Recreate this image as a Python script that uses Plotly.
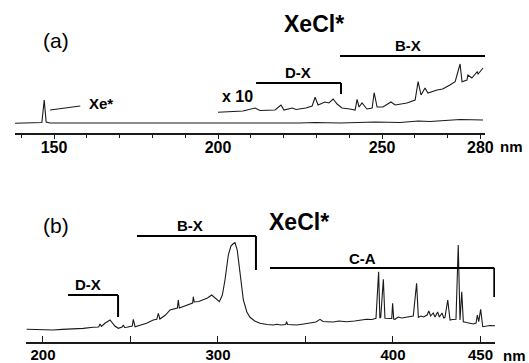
import plotly.graph_objects as go

W, H = 529, 363

# ---------------- Panel (a) data (wavelength nm, intensity a.u.) ----------------
A_MAIN_NM = [138.1, 142.7, 145.7, 146.3, 147.0, 147.6, 148.8, 164.0, 179.3, 200.0,
             225.0, 229.6, 237.2, 247.9, 255.5, 261.0, 264.6, 273.8, 280.8]
A_MAIN_I = [9.7, 10, 10, 10.5, 33, 11, 10, 10, 9.5, 9.7,
            10, 10.5, 10, 11, 10.5, 12, 11.5, 13.5, 13]

A_X10_NM = [200.0, 203.5, 207.6, 211.3, 212.8, 217.4, 219.2, 220.1, 222.6, 223.8,
            226.8, 228.7, 229.6, 230.5, 231.4, 232.6, 233.8, 235.1, 236.3, 237.8,
            240.2, 241.8, 242.4, 243.0, 243.9, 245.4, 247.0, 247.6, 248.5, 250.3,
            252.7, 254.0, 257.6, 260.1, 261.0, 261.9, 263.1, 264.0, 266.8, 268.5,
            270.7, 272.3, 273.8, 274.4, 275.9, 276.2, 277.4, 279.0, 279.3, 280.8]
A_X10_I = [20.7, 21.5, 22, 25, 22.5, 23, 28, 23, 25, 23.5,
           25, 27, 35.7, 28, 29, 31, 30, 34, 29, 25,
           24, 23, 33.7, 26, 30, 24, 25, 40.3, 26, 26,
           31, 28, 30, 33, 51.3, 38, 45, 40, 43, 44,
           48, 51.3, 69, 51.3, 53, 58, 55, 61.3, 59, 65]

A_TICKS = [150, 200, 250, 280]
A_MINOR = [140, 160, 170, 180, 190, 210, 220, 230, 240, 260, 270]

# brackets: (start nm, end nm, level, drop level or None)
A_DX = (211.6, 237.5, 50, 39)
A_BX = (237.2, 281.4, 77, None)

# ---------------- Panel (b) data ----------------
B_NM = [190.7, 198.0, 205.7, 211.0, 217.1, 223.0, 228.6, 231.8, 232.6, 233.4,
        235.4, 238.3, 241.1, 243.0, 245.2, 245.9, 246.6, 247.8, 251.0, 251.6,
        252.6, 256.0, 259.2, 263.0, 265.0, 265.9, 266.8, 270.0, 272.6, 276.8,
        277.3, 277.9, 281.0, 284.0, 285.5, 285.9, 286.4, 289.0, 291.6, 294.0,
        296.4, 298.5, 300.8, 302.5, 304.0, 305.9, 307.4, 308.5, 309.7, 311.0,
        312.6, 314.5, 316.5, 318.3, 321.0, 324.0, 328.0, 331.6, 333.5, 336.0,
        338.7, 339.2, 339.8, 345.0, 349.0, 352.6, 356.0, 358.3, 360.0, 362.1,
        366.0, 369.0, 373.5, 378.0, 382.0, 385.0, 388.0, 390.3, 391.8, 392.5,
        393.0, 394.5, 395.4, 396.4, 399.3, 399.8, 400.4, 401.1, 403.0, 405.0,
        407.8, 409.5, 411.6, 413.5, 414.5, 416.0, 417.5, 419.5, 420.5, 421.5,
        423.0, 424.0, 425.5, 426.5, 428.0, 429.0, 429.7, 431.3, 432.6, 434.0,
        436.0, 437.3, 438.3, 439.3, 440.2, 442.0, 444.0, 445.9, 447.5, 448.2,
        449.0, 450.1, 451.3, 453.5, 455.5, 458.3]
B_I = [12.7, 12.2, 12, 12.6, 13, 13.6, 14.7, 15, 18, 15.5,
       18.7, 22, 16, 13.7, 15, 17, 14.5, 14.7, 16, 22.7,
       15.3, 17, 18.7, 22, 22.7, 28.7, 23, 27, 32, 34,
       42, 34, 36, 38.7, 39, 45.3, 40, 40.5, 42, 44,
       47, 44, 40.3, 47, 62, 87, 96, 98, 99.3, 92,
       68.7, 42, 30, 24.7, 21, 18.7, 17.5, 17, 17.7, 17,
       17.5, 20.3, 17.5, 17, 18, 18.7, 20, 22.7, 20.5, 20.3,
       20, 21, 20.3, 21, 22, 22.7, 22.5, 23.7, 70.3, 24,
       24.7, 62.7, 23.7, 23.7, 23.5, 38.7, 23, 22.7, 25, 24,
       24.7, 25, 26, 58.7, 24.7, 26, 25, 27, 31, 26,
       29, 25, 30, 25, 29, 24, 24.7, 42, 22, 22.5,
       22.7, 97, 22, 50.3, 20.3, 19.5, 19, 18, 19, 27,
       20.3, 32.7, 15.3, 16, 16.5, 16.3]

B_TICKS = [200, 250, 300, 350, 400, 450]
B_TICKTEXT = ["200", "", "300", "", "400", "450"]

B_DX = (214.3, 242.9, 47, 25)
B_BX = (253.7, 321.7, 106, 72)
B_CA = (329.7, 457.9, 74, 45)

# ---------------- helpers (pixel -> paper for layout placement) ----------------
def px(x):
    return x / W

def py(y):
    return 1 - y / H

LINE = "#1a1a1a"
FONT = "Liberation Sans, Arial, sans-serif"

fig = go.Figure()

fig.add_trace(go.Scatter(x=A_MAIN_NM, y=A_MAIN_I, mode="lines",
                         line=dict(color=LINE, width=1.1), xaxis="x", yaxis="y",
                         showlegend=False, hoverinfo="skip"))
fig.add_trace(go.Scatter(x=A_X10_NM, y=A_X10_I, mode="lines",
                         line=dict(color=LINE, width=1.1), xaxis="x", yaxis="y",
                         showlegend=False, hoverinfo="skip"))
fig.add_trace(go.Scatter(x=B_NM, y=B_I, mode="lines",
                         line=dict(color=LINE, width=1.1), xaxis="x2", yaxis="y2",
                         showlegend=False, hoverinfo="skip"))

shapes = []

def bracket(b, xr, yr):
    x0, x1, lv, drop = b
    shapes.append(dict(type="line", xref=xr, yref=yr, x0=x0, x1=x1, y0=lv, y1=lv,
                       line=dict(color="black", width=2)))
    if drop is not None:
        shapes.append(dict(type="line", xref=xr, yref=yr, x0=x1, x1=x1, y0=lv, y1=drop,
                           line=dict(color="black", width=2)))

bracket(A_DX, "x", "y")
bracket(A_BX, "x", "y")
bracket(B_DX, "x2", "y2")
bracket(B_BX, "x2", "y2")
bracket(B_CA, "x2", "y2")

# Xe* pointer line
shapes.append(dict(type="line", xref="x", yref="y", x0=148.8, x1=158.0, y0=23, y1=27,
                   line=dict(color=LINE, width=1.2)))

anns = []

def txt(x, y, s, size, bold=True, xref="paper", yref="paper", xanchor="center"):
    anns.append(dict(x=x, y=y, xref=xref, yref=yref, text=(f"<b>{s}</b>" if bold else s),
                     showarrow=False, xanchor=xanchor, yanchor="middle",
                     font=dict(family=FONT, size=size, color="black")))

# panel (a) texts
txt(px(56), py(40), "(a)", 21, bold=False)
txt(px(314), py(24), "XeCl*", 23)
txt(160.2, 29.5, "Xe*", 15, xref="x", yref="y", xanchor="left")
txt(px(237), py(96), "x 10", 16)
txt(224.5, 61, "D-X", 15, xref="x", yref="y")
txt(257.8, 88, "B-X", 15, xref="x", yref="y")
txt(px(511), py(146), "nm", 15)

# panel (b) texts
txt(px(56), py(225), "(b)", 21, bold=False)
txt(px(299), py(222), "XeCl*", 23)
txt(225.7, 58, "D-X", 15, xref="x2", yref="y2")
txt(284.0, 117, "B-X", 15, xref="x2", yref="y2")
txt(382.3, 84, "C-A", 15, xref="x2", yref="y2")
txt(px(514), py(355), "nm", 15)

tickfont = dict(family=FONT, size=16, color="black", weight="bold")
tickfont_b = dict(family=FONT, size=15, color="black", weight="bold")

fig.update_layout(
    width=W, height=H,
    margin=dict(l=0, r=0, t=0, b=0),
    paper_bgcolor="white", plot_bgcolor="white",
    showlegend=False,
    shapes=shapes, annotations=anns,
    xaxis=dict(domain=[px(15), px(485)], range=[138.1, 281.4], anchor="y",
               showline=True, linecolor=LINE, linewidth=1.5, showgrid=False, zeroline=False,
               tickmode="array", tickvals=A_TICKS, ticks="outside", ticklen=4,
               tickcolor=LINE, tickwidth=1.2, tickfont=tickfont, ticklabelstandoff=-5,
               minor=dict(tickmode="array", tickvals=A_MINOR, ticks="outside", ticklen=3,
                          tickcolor=LINE, tickwidth=1, showgrid=False),
               automargin=False, fixedrange=True),
    yaxis=dict(domain=[py(133), 1], range=[0, 133], visible=False, fixedrange=True),
    xaxis2=dict(domain=[px(26), px(495)], range=[190.29, 458.3], anchor="y2",
                showline=True, linecolor=LINE, linewidth=1.5, showgrid=False, zeroline=False,
                tickmode="array", tickvals=B_TICKS, ticktext=B_TICKTEXT, ticks="inside",
                ticklen=6, tickcolor=LINE, tickwidth=1.2, tickfont=tickfont_b,
                ticklabelstandoff=-2,
                automargin=False, fixedrange=True),
    yaxis2=dict(domain=[py(342), py(180)], range=[0, 162], visible=False, fixedrange=True),
)

fig.write_html("out.html", config={"displayModeBar": False},
               post_script="document.body.style.margin='0';document.body.style.overflow='hidden';")
